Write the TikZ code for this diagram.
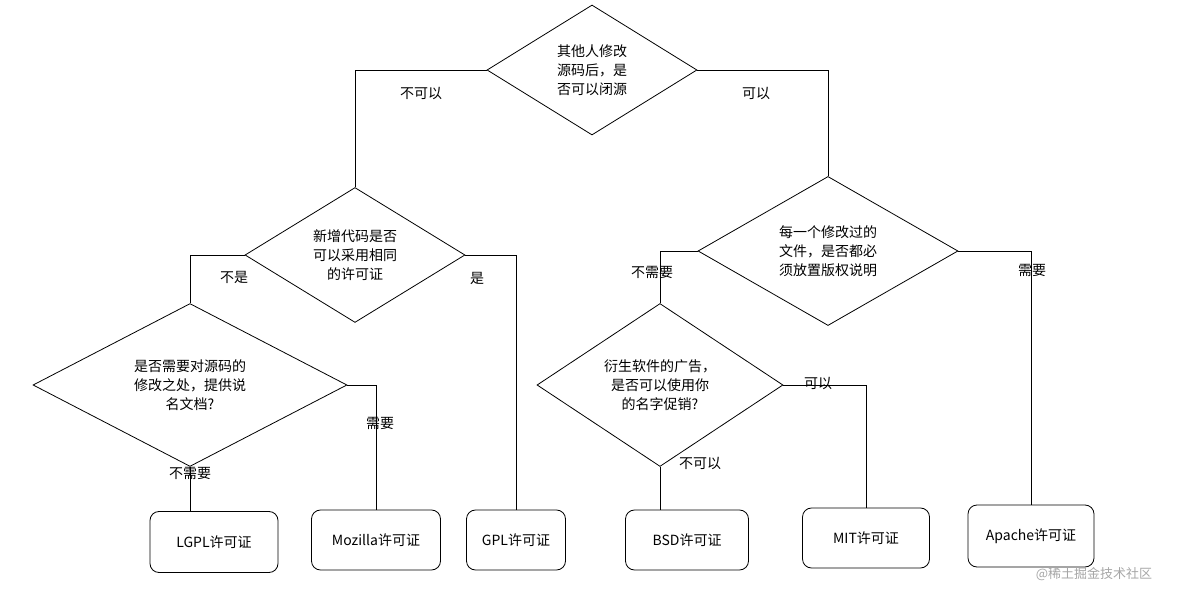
\documentclass[tikz,border=0pt]{standalone}
\usepackage{fontspec}
\setmainfont{Noto Sans CJK SC}
\usetikzlibrary{shapes.geometric}
\begin{document}
\begin{tikzpicture}[x=1pt,y=-1pt,line width=0.8pt,
  dia/.style={draw,diamond,aspect=1.7,inner sep=0pt,align=center,font=\fontsize{14}{19}\selectfont},
  box/.style={draw,rounded corners=9pt,minimum width=126pt,minimum height=60pt,font=\fontsize{14}{17}\selectfont},
  lab/.style={font=\fontsize{14}{17}\selectfont}]
\useasboundingbox (0,0) rectangle (1192,601);
\node[draw,diamond,minimum width=210pt,minimum height=130pt,inner sep=0pt,align=center,font=\fontsize{14}{19}\selectfont] (d1) at (592,70) {其他人修改\\源码后，是\\否可以闭源};
\node[draw,diamond,minimum width=220pt,minimum height=130pt,inner sep=0pt,align=center,font=\fontsize{14}{19}\selectfont] (d2) at (355,255) {新增代码是否\\可以采用相同\\的许可证};
\node[draw,diamond,minimum width=260pt,minimum height=132pt,inner sep=0pt,align=center,font=\fontsize{14}{19}\selectfont] (d3) at (828,251) {每一个修改过的\\文件，是否都必\\须放置版权说明};
\node[draw,diamond,minimum width=314pt,minimum height=140pt,inner sep=0pt,align=center,font=\fontsize{14}{19}\selectfont] (d4) at (190,385) {是否需要对源码的\\修改之处，提供说\\名文档?};
\node[draw,diamond,minimum width=246pt,minimum height=134pt,inner sep=0pt,align=center,font=\fontsize{14}{19}\selectfont] (d5) at (660,385) {衍生软件的广告，\\是否可以使用你\\的名字促销?};
\node[box,minimum width=128pt,minimum height=61pt] (lgpl) at (214,542) {LGPL许可证};
\node[box,minimum width=129pt] (moz) at (376,540) {Mozilla许可证};
\node[box,minimum width=99pt] (gpl) at (516,540) {GPL许可证};
\node[box,minimum width=123pt] (bsd) at (687,540) {BSD许可证};
\node[box,minimum width=127pt] (mit) at (866,538) {MIT许可证};
\node[box,minimum width=126pt,minimum height=62pt] (apa) at (1031,536) {Apache许可证};
\draw (d1.west) -| (d2.north);
\draw (d1.east) -| (d3.north);
\draw (d2.west) -| (d4.north);
\draw (d2.east) -| (gpl.north);
\draw (d3.west) -| (d5.north);
\draw (d3.east) -| (apa.north);
\draw (d4.south) -- (lgpl.north -| d4.south);
\draw (d4.east) -| (moz.north);
\draw (d5.south) -- (bsd.north -| d5.south);
\draw (d5.east) -| (mit.north);
\node[lab] at (421,93) {不可以};
\node[lab] at (756,93) {可以};
\node[lab] at (234,277) {不是};
\node[lab] at (477,278) {是};
\node[lab] at (652,272) {不需要};
\node[lab] at (1032,270) {需要};
\node[lab] at (190,473) {不需要};
\node[lab] at (380,423) {需要};
\node[lab] at (700,463) {不可以};
\node[lab] at (818,383) {可以};
\node[font=\fontsize{13}{15}\selectfont,text=gray!70] at (1094,574) {@稀土掘金技术社区};
\end{tikzpicture}
\end{document}
